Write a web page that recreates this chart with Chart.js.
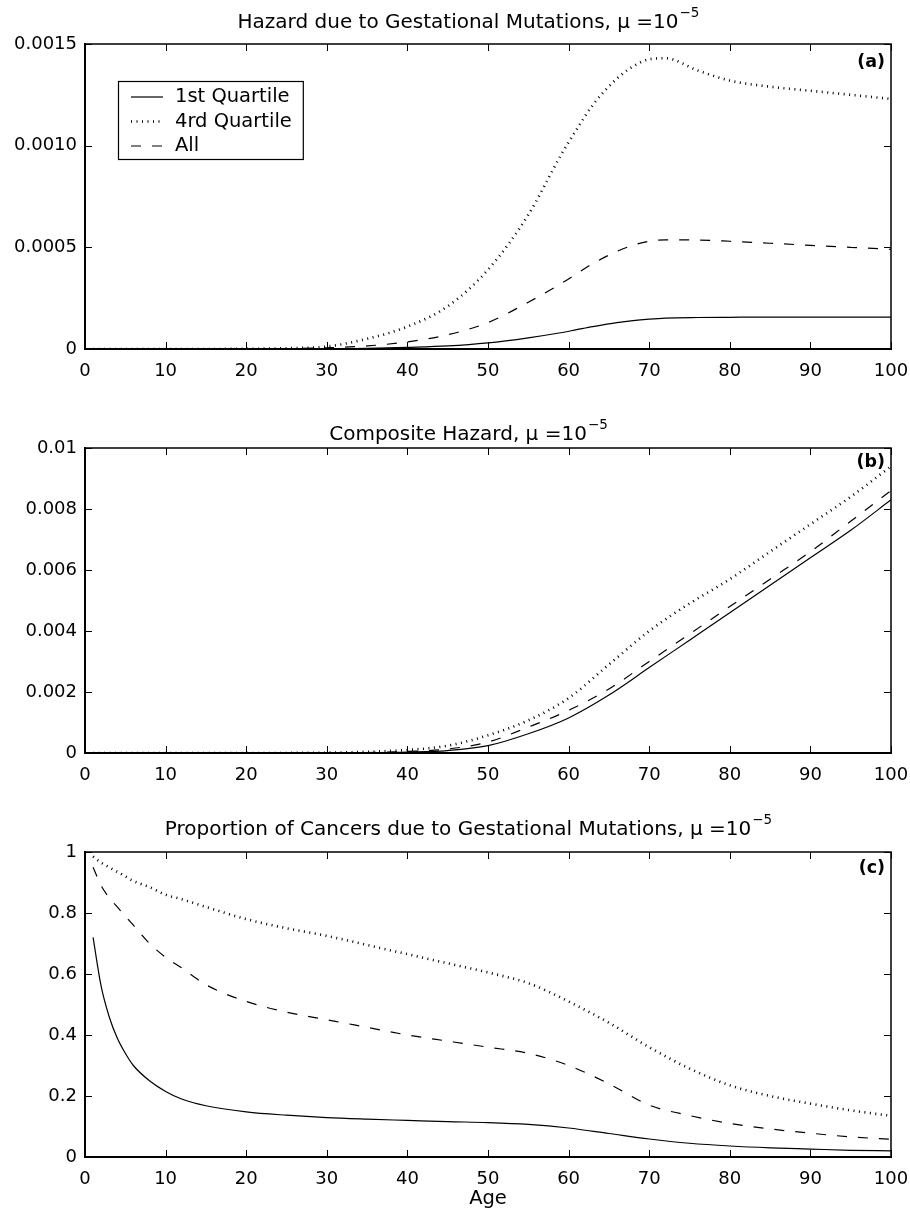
<!DOCTYPE html>
<html>
<head>
<meta charset="utf-8">
<script src="https://cdn.jsdelivr.net/npm/chart.js@4.4.1/dist/chart.umd.min.js"></script>
<style>
  body { margin: 0; background: #fff; }
  .figure { position: relative; width: 910px; height: 1214px; }
  .figure canvas { position: absolute; left: 0; }
</style>
</head>
<body>
<div class="figure">
  <canvas id="gestationalChart" width="910" height="404" style="top:0"></canvas>
  <canvas id="compositeChart" width="910" height="404" style="top:404px"></canvas>
  <canvas id="proportionChart" width="910" height="406" style="top:808px"></canvas>
</div>
<script>
const seriesNames = ["1st Quartile", "4rd Quartile", "All"];
const ageTicks = [0, 10, 20, 30, 40, 50, 60, 70, 80, 90, 100];

// (a) hazard due to gestational mutations
const gestationalAges = [1, 10, 20, 25, 30, 35, 40, 45, 50, 55, 59, 61, 63, 66, 68, 70, 72, 76, 80, 85, 90, 95, 100];
const gestationalFirst = [0, 0, 0, 0, 0.000001, 0.000003, 0.000008, 0.000015, 0.00003, 0.000055, 0.00008, 0.000095, 0.00011, 0.00013, 0.00014, 0.000147, 0.000152, 0.000155, 0.000156, 0.000157, 0.000157, 0.000157, 0.000157];
const gestationalFourth = [0, 0, 0.000001, 0.000004, 0.000012, 0.00005, 0.00011, 0.00021, 0.00039, 0.00066, 0.00095, 0.00108, 0.0012, 0.00133, 0.00139, 0.001425, 0.00143, 0.00137, 0.00132, 0.00129, 0.00127, 0.00125, 0.00123];
const gestationalAll = [0, 0, 0, 0.000002, 0.000006, 0.000015, 0.000035, 0.00007, 0.00013, 0.00023, 0.00032, 0.00037, 0.00042, 0.00048, 0.00051, 0.00053, 0.000537, 0.000536, 0.00053, 0.00052, 0.00051, 0.0005, 0.00049];
const gestationalTicks = [0, 0.0005, 0.001, 0.0015];
const gestationalTickLabels = ["0", "0.0005", "0.0010", "0.0015"];

// (b) composite hazard
const compositeAges = [1, 20, 30, 35, 40, 45, 50, 55, 60, 65, 70, 75, 80, 85, 90, 95, 100];
const compositeFirst = [0, 0, 0.000002, 0.000008, 0.00003, 0.00008, 0.00024, 0.00063, 0.00115, 0.0019, 0.0028, 0.0037, 0.0046, 0.0055, 0.0064, 0.0073, 0.0083];
const compositeFourth = [0, 0.000001, 0.00001, 0.00004, 0.0001, 0.00024, 0.00058, 0.00107, 0.0018, 0.0029, 0.004, 0.0049, 0.0057, 0.0066, 0.0075, 0.0084, 0.0094];
const compositeAll = [0, 0, 0.000004, 0.000015, 0.00005, 0.00013, 0.00036, 0.00085, 0.0014, 0.0021, 0.003, 0.0039, 0.0048, 0.0057, 0.0066, 0.0076, 0.0086];
const compositeTicks = [0, 0.002, 0.004, 0.006, 0.008, 0.01];
const compositeTickLabels = ["0", "0.002", "0.004", "0.006", "0.008", "0.01"];

// (c) proportion of cancers due to gestational mutations
const proportionAges = [1, 2, 3, 4, 5, 6, 8, 10, 12, 15, 20, 25, 30, 35, 40, 45, 50, 55, 60, 65, 70, 75, 80, 85, 90, 95, 100];
const proportionFirst = [0.72, 0.56, 0.46, 0.39, 0.34, 0.30, 0.25, 0.215, 0.19, 0.168, 0.148, 0.137, 0.129, 0.124, 0.12, 0.116, 0.113, 0.107, 0.095, 0.077, 0.059, 0.045, 0.036, 0.03, 0.026, 0.022, 0.02];
const proportionFourth = [0.985, 0.965, 0.95, 0.935, 0.92, 0.905, 0.885, 0.86, 0.845, 0.82, 0.78, 0.75, 0.725, 0.695, 0.665, 0.635, 0.605, 0.57, 0.51, 0.44, 0.36, 0.29, 0.235, 0.2, 0.175, 0.153, 0.135];
const proportionAll = [0.95, 0.89, 0.85, 0.82, 0.79, 0.76, 0.70, 0.655, 0.62, 0.565, 0.51, 0.475, 0.45, 0.425, 0.40, 0.38, 0.36, 0.34, 0.30, 0.24, 0.17, 0.136, 0.11, 0.092, 0.078, 0.066, 0.058];
const proportionTicks = [0, 0.2, 0.4, 0.6, 0.8, 1];
const proportionTickLabels = ["0", "0.2", "0.4", "0.6", "0.8", "1"];

const FONT_FAMILY = "'DejaVu Sans', sans-serif";
const TICK_LENGTH = 7;
const TITLE_CENTER_X = 468;

const lineStyles = [
  { borderWidth: 1.2, borderDash: [] },
  { borderWidth: 2.6, borderDash: [1, 4.5] },
  { borderWidth: 1.2, borderDash: [10, 11] }
];

function toPoints(ages, values) {
  return ages.map((age, index) => ({ x: age, y: values[index] }));
}

// title with a real superscript for the exponent, as matlab drew it
function drawTitle(ctx, title, baseline) {
  ctx.textBaseline = "alphabetic";
  ctx.textAlign = "left";
  ctx.font = `20px ${FONT_FAMILY}`;
  const mainWidth = ctx.measureText(title.text).width;
  ctx.font = `13.5px ${FONT_FAMILY}`;
  const supWidth = ctx.measureText(title.sup).width;
  const start = TITLE_CENTER_X - (mainWidth + supWidth) / 2;

  ctx.font = `20px ${FONT_FAMILY}`;
  ctx.fillText(title.text, start, baseline);
  ctx.font = `13.5px ${FONT_FAMILY}`;
  ctx.fillText(title.sup, start + mainWidth + 1, baseline - 10.5);
}

function drawLegend(chart, ctx, area) {
  const left = area.left + 33;
  const top = area.top + 37;
  ctx.font = `19.5px ${FONT_FAMILY}`;
  const textWidth = Math.max(...chart.data.datasets.map((dataset) => ctx.measureText(dataset.label).width));
  const width = 57 + textWidth + 11;
  const height = 78;

  ctx.fillStyle = "#fff";
  ctx.fillRect(left, top, width, height);
  ctx.lineWidth = 1.2;
  ctx.strokeStyle = "#000";
  ctx.strokeRect(left + 0.5, top + 0.5, width, height);

  chart.data.datasets.forEach((dataset, index) => {
    const y = top + 16 + index * 24.5;
    ctx.lineWidth = dataset.borderWidth;
    ctx.setLineDash(dataset.borderDash);
    ctx.beginPath();
    ctx.moveTo(left + 13, y);
    ctx.lineTo(left + 45, y);
    ctx.stroke();
    ctx.setLineDash([]);
    ctx.fillStyle = "#000";
    ctx.textAlign = "left";
    ctx.textBaseline = "middle";
    ctx.fillText(dataset.label, left + 57, y);
  });
}

// matlab style box: inward ticks on every side, thin top/right edges, title, panel tag
const matlabFrame = {
  id: "matlabFrame",
  afterDatasetsDraw(chart, args, options) {
    const { ctx, chartArea: area, scales } = chart;
    ctx.save();
    ctx.strokeStyle = "#000";
    ctx.lineWidth = 1;
    ctx.beginPath();
    scales.x.ticks.forEach((tick) => {
      const px = Math.round(scales.x.getPixelForValue(tick.value)) + 0.5;
      ctx.moveTo(px, area.bottom);
      ctx.lineTo(px, area.bottom - TICK_LENGTH);
      ctx.moveTo(px, area.top);
      ctx.lineTo(px, area.top + TICK_LENGTH);
    });
    scales.y.ticks.forEach((tick) => {
      const py = Math.round(scales.y.getPixelForValue(tick.value)) + 0.5;
      ctx.moveTo(area.left, py);
      ctx.lineTo(area.left + TICK_LENGTH, py);
      ctx.moveTo(area.right, py);
      ctx.lineTo(area.right - TICK_LENGTH, py);
    });
    ctx.stroke();

    ctx.lineWidth = 1.5;
    ctx.beginPath();
    ctx.moveTo(area.left, area.top);
    ctx.lineTo(area.right, area.top);
    ctx.lineTo(area.right, area.bottom);
    ctx.stroke();

    ctx.fillStyle = "#000";
    drawTitle(ctx, options.title, options.titleBaseline);

    ctx.font = `bold 17.5px ${FONT_FAMILY}`;
    ctx.textAlign = "right";
    ctx.textBaseline = "middle";
    ctx.fillText(options.tag, area.right - 6, area.top + options.tagOffset);

    if (options.legend) {
      drawLegend(chart, ctx, area);
    }
    ctx.restore();
  }
};

function buildPanel(canvasId, panel) {
  return new Chart(document.getElementById(canvasId), {
    type: "line",
    data: {
      datasets: seriesNames.map((name, index) => ({
        label: name,
        data: toPoints(panel.ages, panel.series[index]),
        borderColor: "#000",
        pointRadius: 0,
        cubicInterpolationMode: "monotone",
        ...lineStyles[index]
      }))
    },
    options: {
      responsive: false,
      animation: false,
      devicePixelRatio: 1,
      layout: { padding: { left: 0, right: 19, top: 44, bottom: 0 } },
      plugins: {
        legend: { display: false },
        tooltip: { enabled: false },
        title: { display: false },
        matlabFrame: {
          title: panel.title,
          titleBaseline: panel.titleBaseline,
          tag: panel.tag,
          tagOffset: panel.tagOffset,
          legend: panel.showLegend
        }
      },
      scales: {
        x: {
          type: "linear",
          min: 0,
          max: 100,
          grid: { display: false, drawTicks: false },
          border: { display: true, color: "#000", width: 2 },
          ticks: { color: "#000", padding: 12, font: { family: FONT_FAMILY, size: 18 } },
          title: {
            display: Boolean(panel.xTitle),
            text: panel.xTitle || "",
            color: "#000",
            padding: { top: 0, bottom: 3 },
            font: { family: FONT_FAMILY, size: 19.5, lineHeight: 1.2 }
          },
          afterBuildTicks: (scale) => {
            scale.ticks = ageTicks.map((value) => ({ value }));
          },
          afterFit: (scale) => {
            scale.height = panel.axisHeight;
            scale.paddingLeft = 0;
            scale.paddingRight = 0;
          }
        },
        y: {
          type: "linear",
          min: panel.yTicks[0],
          max: panel.yTicks[panel.yTicks.length - 1],
          grid: { display: false, drawTicks: false },
          border: { display: true, color: "#000", width: 2 },
          ticks: {
            color: "#000",
            padding: 8,
            font: { family: FONT_FAMILY, size: 18 },
            callback: (value, index) => panel.yLabels[index]
          },
          afterBuildTicks: (scale) => {
            scale.ticks = panel.yTicks.map((value) => ({ value }));
          },
          afterFit: (scale) => {
            scale.width = 85;
          }
        }
      }
    },
    plugins: [matlabFrame]
  });
}

buildPanel("gestationalChart", {
  title: { text: "Hazard due to Gestational Mutations, μ =10", sup: "−5" },
  titleBaseline: 27.5,
  ages: gestationalAges,
  series: [gestationalFirst, gestationalFourth, gestationalAll],
  yTicks: gestationalTicks,
  yLabels: gestationalTickLabels,
  tag: "(a)",
  tagOffset: 18.5,
  showLegend: true,
  axisHeight: 55
});

buildPanel("compositeChart", {
  title: { text: "Composite Hazard, μ =10", sup: "−5" },
  titleBaseline: 35.5,
  ages: compositeAges,
  series: [compositeFirst, compositeFourth, compositeAll],
  yTicks: compositeTicks,
  yLabels: compositeTickLabels,
  tag: "(b)",
  tagOffset: 14,
  showLegend: false,
  axisHeight: 55
});

buildPanel("proportionChart", {
  title: { text: "Proportion of Cancers due to Gestational Mutations, μ =10", sup: "−5" },
  titleBaseline: 26.5,
  ages: proportionAges,
  series: [proportionFirst, proportionFourth, proportionAll],
  yTicks: proportionTicks,
  yLabels: proportionTickLabels,
  tag: "(c)",
  tagOffset: 16,
  showLegend: false,
  axisHeight: 57,
  xTitle: "Age"
});
</script>
</body>
</html>
